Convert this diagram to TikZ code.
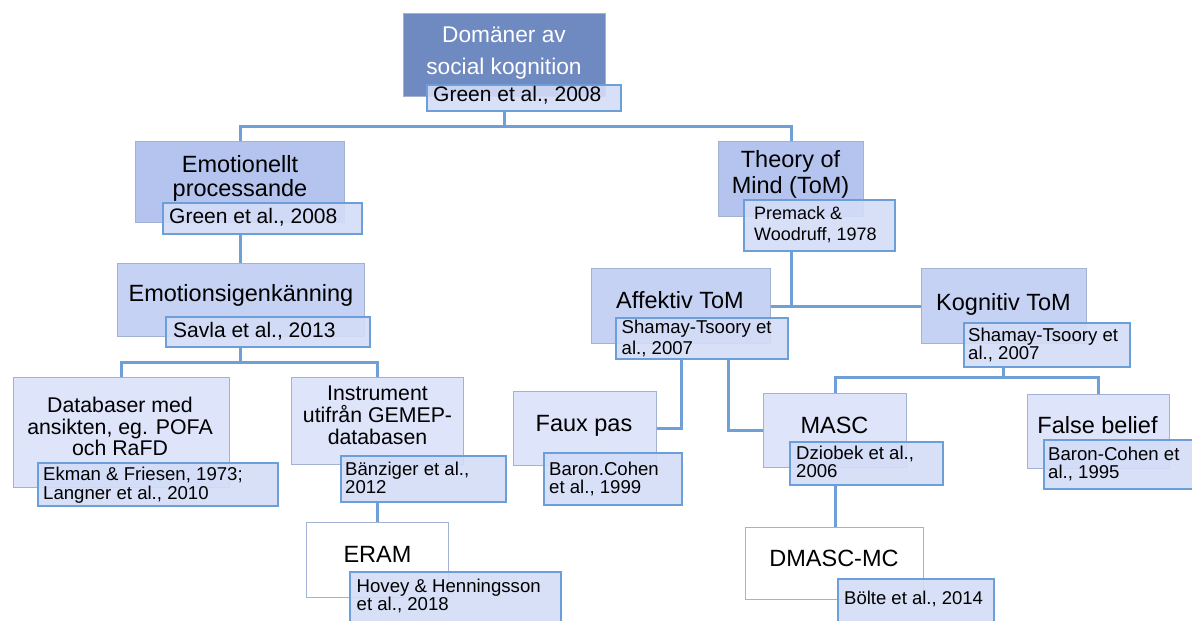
\documentclass[tikz,border=0pt]{standalone}
\usepackage{fontspec}
\setmainfont{Liberation Sans}
\pgfdeclarelayer{bg}
\pgfsetlayers{bg,main}
\definecolor{rootf}{RGB}{111,137,193}
\definecolor{lv1}{RGB}{180,196,238}
\definecolor{lv2}{RGB}{198,210,243}
\definecolor{lv3}{RGB}{222,228,250}
\definecolor{boxc}{RGB}{163,178,211}
\definecolor{lblf}{RGB}{212,221,247}
\definecolor{lblc}{RGB}{108,158,218}
\definecolor{connc}{RGB}{110,160,215}
\tikzset{
  box/.style={draw=boxc, line width=1.1pt, inner sep=0, anchor=north west},
  lbl/.style={draw=lblc, line width=2.4pt, fill=lblf, fill opacity=0.9, draw opacity=1, inner sep=0, anchor=north west},
  conn/.style={draw=connc, line width=3pt},
  bigtxt/.style={font=\fontsize{23.5}{24}\selectfont, inner sep=0, anchor=base, align=center},
  lbltxt/.style={inner sep=0, anchor=base west, align=left},
}
\newcommand\mkbox[6]{\node[#6, minimum width={#4-#2}, minimum height={#5-#3}] (#1) at (#2,#3) {};}
\begin{document}
\begin{tikzpicture}[x=1pt,y=-1pt]
\useasboundingbox (0,0) rectangle (1192,621);
% boxes
\mkbox{root}{403}{13}{605}{96}{box, fill=rootf}
\mkbox{emo}{135}{141}{344}{222}{box, fill=lv1}
\mkbox{tom}{718}{141}{863}{216}{box, fill=lv1}
\mkbox{sig}{117}{263}{364}{336}{box, fill=lv2}
\mkbox{aff}{591}{268}{770}{343}{box, fill=lv2}
\mkbox{kog}{921}{268}{1086}{343}{box, fill=lv2}
\mkbox{db}{13}{377}{229}{487}{box, fill=lv3}
\mkbox{ins}{291}{377}{463}{464}{box, fill=lv3}
\mkbox{eram}{306}{522}{448}{597}{box, fill=white}
\mkbox{faux}{513}{391}{656}{465}{box, fill=lv3}
\mkbox{masc}{763}{393}{906}{467}{box, fill=lv3}
\mkbox{dmasc}{745}{527}{923}{599}{box, fill=white}
\mkbox{fb}{1027}{394}{1169}{468}{box, fill=lv3}
% box texts (multi-line nodes are placed at the baseline of their last line)
\node[bigtxt, text=white, font=\fontsize{22.7}{32}\selectfont] (roott) at (504,74) {Domäner av\\social kognition};
\node[bigtxt] (emot) at (240,196.7) {Emotionellt\\processande};
\node[bigtxt, font=\fontsize{23.5}{26}\selectfont] (tomt) at (790.5,193) {Theory of\\Mind (ToM)};
\node[bigtxt] (sigt) at (241,301.7) {Emotionsigenkänning};
\node[bigtxt] (afft) at (680,308) {Affektiv ToM};
\node[bigtxt] (kogt) at (1003.5,310) {Kognitiv ToM};
\node[bigtxt, font=\fontsize{21.3}{21.6}\selectfont] (dbt) at (120,455.7) {Databaser med\\ansikten, eg. POFA\\och RaFD};
\node[bigtxt, font=\fontsize{21.3}{21.7}\selectfont] (inst) at (377.5,444) {Instrument\\utifrån GEMEP-\\databasen};
\node[bigtxt] (eramt) at (377.5,562) {ERAM};
\node[bigtxt] (fauxt) at (584,431) {Faux pas};
\node[bigtxt] (masct) at (834.5,433) {MASC};
\node[bigtxt] (dmasct) at (834,566) {DMASC-MC};
\node[bigtxt] (fbt) at (1097.5,433) {False belief};
% labels
\mkbox{rootl}{426}{84}{620}{110}{lbl}
\mkbox{emol}{162}{202}{361}{233}{lbl}
\mkbox{savl}{165}{316}{369}{346}{lbl}
\mkbox{preml}{743}{199}{894}{250}{lbl}
\mkbox{affl}{615}{317}{787}{358}{lbl}
\mkbox{kogl}{963}{322}{1129}{366}{lbl}
\mkbox{dbl}{37}{462}{277}{505}{lbl}
\mkbox{insl}{340}{455}{505}{501}{lbl}
\mkbox{hovl}{349}{571}{560}{630}{lbl}
\mkbox{fauxl}{543}{452}{681}{504}{lbl}
\mkbox{dzl}{789}{441}{942}{484}{lbl}
\mkbox{boll}{837}{578}{993}{630}{lbl}
\mkbox{fbl}{1043}{439}{1200}{488}{lbl}
% label texts
\node[lbltxt, font=\fontsize{21}{22}\selectfont] (rootlt) at (433,101.7) {Green et al., 2008};
\node[lbltxt, font=\fontsize{21}{22}\selectfont] (emolt) at (169,223) {Green et al., 2008};
\node[lbltxt, font=\fontsize{21}{22}\selectfont] (savlt) at (173,337.3) {Savla et al., 2013};
\node[lbltxt, font=\fontsize{18}{20.7}\selectfont] (premlt) at (754,240) {Premack \&\\Woodruff, 1978};
\node[lbltxt, font=\fontsize{18.6}{20.5}\selectfont] (afflt) at (621.5,354) {Shamay-Tsoory et\\al., 2007};
\node[lbltxt, font=\fontsize{18.6}{18.3}\selectfont] (koglt) at (968,359.3) {Shamay-Tsoory et\\al., 2007};
\node[lbltxt, font=\fontsize{18.6}{18.6}\selectfont] (dblt) at (43,499.3) {Ekman \& Friesen, 1973;\\Langner et al., 2010};
\node[lbltxt, font=\fontsize{18.6}{18.3}\selectfont] (inslt) at (345,493.3) {Bänziger et al.,\\2012};
\node[lbltxt, font=\fontsize{18.6}{18}\selectfont] (hovlt) at (356.5,610.7) {Hovey \& Henningsson\\et al., 2018};
\node[lbltxt, font=\fontsize{18.6}{18.3}\selectfont] (fauxlt) at (549,493.3) {Baron.Cohen\\et al., 1999};
\node[lbltxt, font=\fontsize{18.6}{18}\selectfont] (dzlt) at (796,477.3) {Dziobek et al.,\\2006};
\node[lbltxt, font=\fontsize{18.5}{18}\selectfont] (bollt) at (844,604) {Bölte et al., 2014};
\node[lbltxt, font=\fontsize{18.6}{18.3}\selectfont] (fblt) at (1048,478.3) {Baron-Cohen et\\al., 1995};
% junctions
\coordinate (j1) at (504,126);
\coordinate (j2) at (240,362.5);
\coordinate (j4) at (1003.5,377);
\coordinate (fx) at (681,0);
\coordinate (mx) at (728,0);
% connectors
\begin{pgfonlayer}{bg}
\draw[conn] (rootl.south -| j1) -- (j1) -| (emo.north);
\draw[conn] (j1) -| (tom.north);
\draw[conn] (emol.south -| emo.south) -- (sig.north -| emo.south);
\draw[conn] (savl.south -| j2) -- (j2) -| (db.north);
\draw[conn] (j2) -| (ins.north);
\draw[conn] (insl.south -| ins.south) -- (eram.north -| ins.south);
\draw[conn] (preml.south -| tom.south) -- (tom.south |- aff.east);
\draw[conn] (aff.east) -- (kog.west);
\draw[conn] (affl.south -| fx) |- (faux.east);
\draw[conn] (affl.south -| mx) |- (masc.west);
\draw[conn] (kogl.south -| j4) -- (j4) -| (masc.north);
\draw[conn] (j4) -| (fb.north);
\draw[conn] (dzl.south -| masc.south) -- (dmasc.north -| masc.south);
\end{pgfonlayer}
\end{tikzpicture}
\end{document}
